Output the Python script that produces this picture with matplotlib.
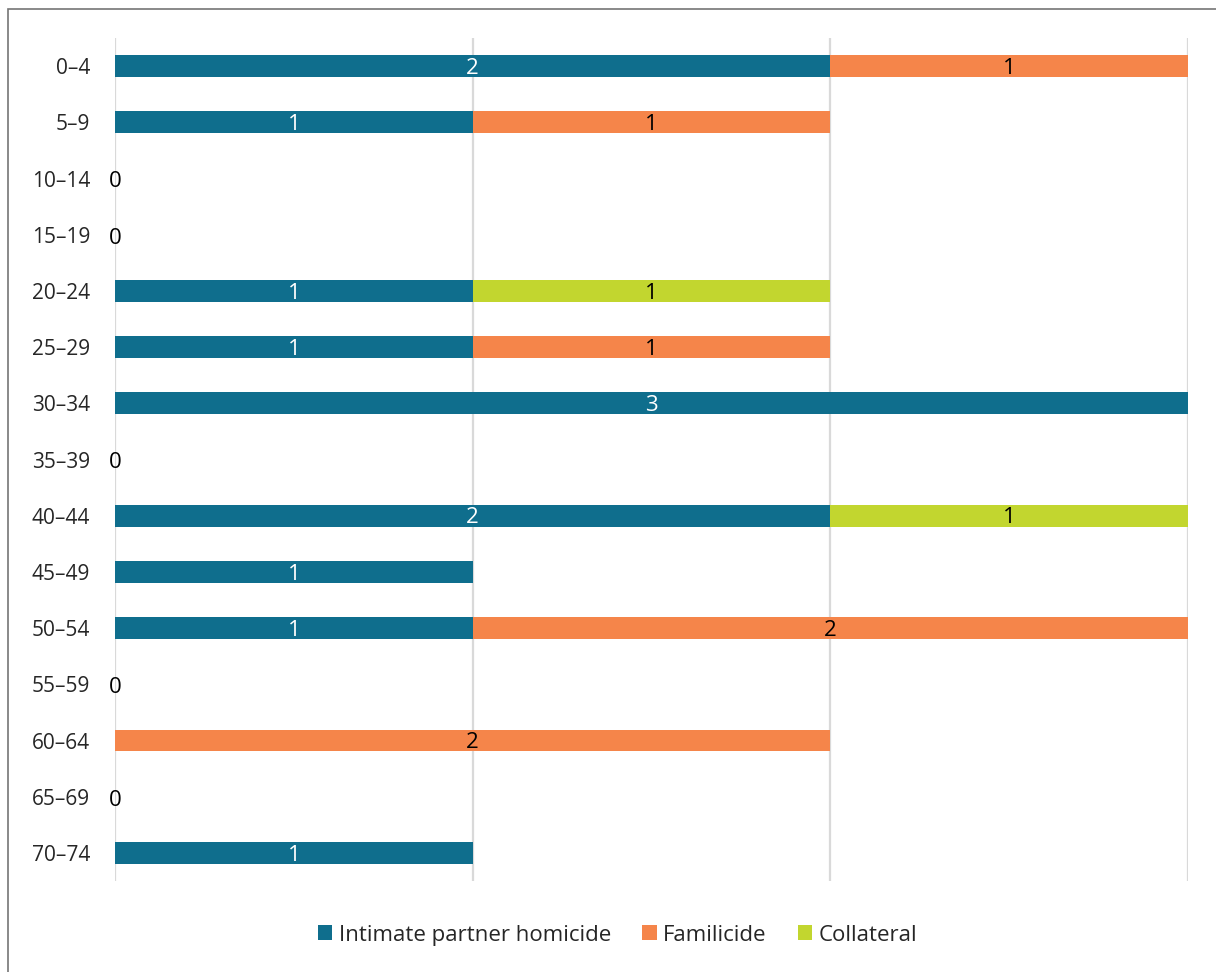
import numpy as np
import matplotlib.pyplot as plt
from matplotlib.patches import Rectangle

plt.rcParams['font.family'] = ['Open Sans', 'DejaVu Sans']

age_groups = ['0–4', '5–9', '10–14', '15–19', '20–24', '25–29', '30–34', '35–39',
              '40–44', '45–49', '50–54', '55–59', '60–64', '65–69', '70–74']
intimate = [2, 1, 0, 0, 1, 1, 3, 0, 2, 1, 1, 0, 0, 0, 1]
familicide = [1, 1, 0, 0, 0, 1, 0, 0, 0, 0, 2, 0, 2, 0, 0]
collateral = [0, 0, 0, 0, 1, 0, 0, 0, 1, 0, 0, 0, 0, 0, 0]

series = [
    ('Intimate partner homicide', intimate, '#0F6E8D', 'white'),
    ('Familicide', familicide, '#F5854A', 'black'),
    ('Collateral', collateral, '#C2D62F', 'black'),
]

fig = plt.figure(figsize=(12.16, 9.72), dpi=100)
ax = fig.add_axes([0.0946, 0.0936, 0.8824, 0.8673])

y = np.arange(len(age_groups))
left = np.zeros(len(age_groups))
for name, vals, color, txt in series:
    vals = np.array(vals, dtype=float)
    ax.barh(y, vals, left=left, height=0.39, color=color, label=name, zorder=3)
    for yi, (l, v) in enumerate(zip(left, vals)):
        if v > 0:
            ax.text(l + v / 2, yi + 0.04, f'{int(v)}', ha='center', va='center',
                    color=txt, fontsize=16, zorder=4)
    left = left + vals

# zero labels for empty age groups
for yi, total in enumerate(left):
    if total == 0:
        ax.text(0, yi + 0.06, '0', ha='center', va='center', color='black',
                fontsize=16, fontweight='medium', zorder=4)

ax.set_xlim(0, 3)
ax.set_ylim(len(age_groups) - 0.5, -0.5)
ax.set_yticks(y)
ax.set_yticklabels(age_groups, fontsize=15, color='#262626')
ax.set_xticks([0, 1, 2, 3])
ax.tick_params(axis='x', length=0, labelbottom=False)
ax.tick_params(axis='y', length=0, pad=18)
ax.grid(axis='x', color='#D9D9D9', linewidth=1.6, zorder=0)
for s in ax.spines.values():
    s.set_visible(False)

fig.legend(*ax.get_legend_handles_labels(), loc='center',
           bbox_to_anchor=(0.508, 1 - 935 / 972), ncol=3, frameon=False,
           fontsize=16, handlelength=0.65, handleheight=0.65, handletextpad=0.3,
           columnspacing=1.4, labelcolor='#262626')

# outer border
fig.patches.append(Rectangle((8 / 1216, -0.1), 1.2, 1 - 9 / 972 + 0.1,
                             transform=fig.transFigure, fill=False,
                             edgecolor='#767676', linewidth=1.2))

fig.savefig('out.png', dpi=100)
